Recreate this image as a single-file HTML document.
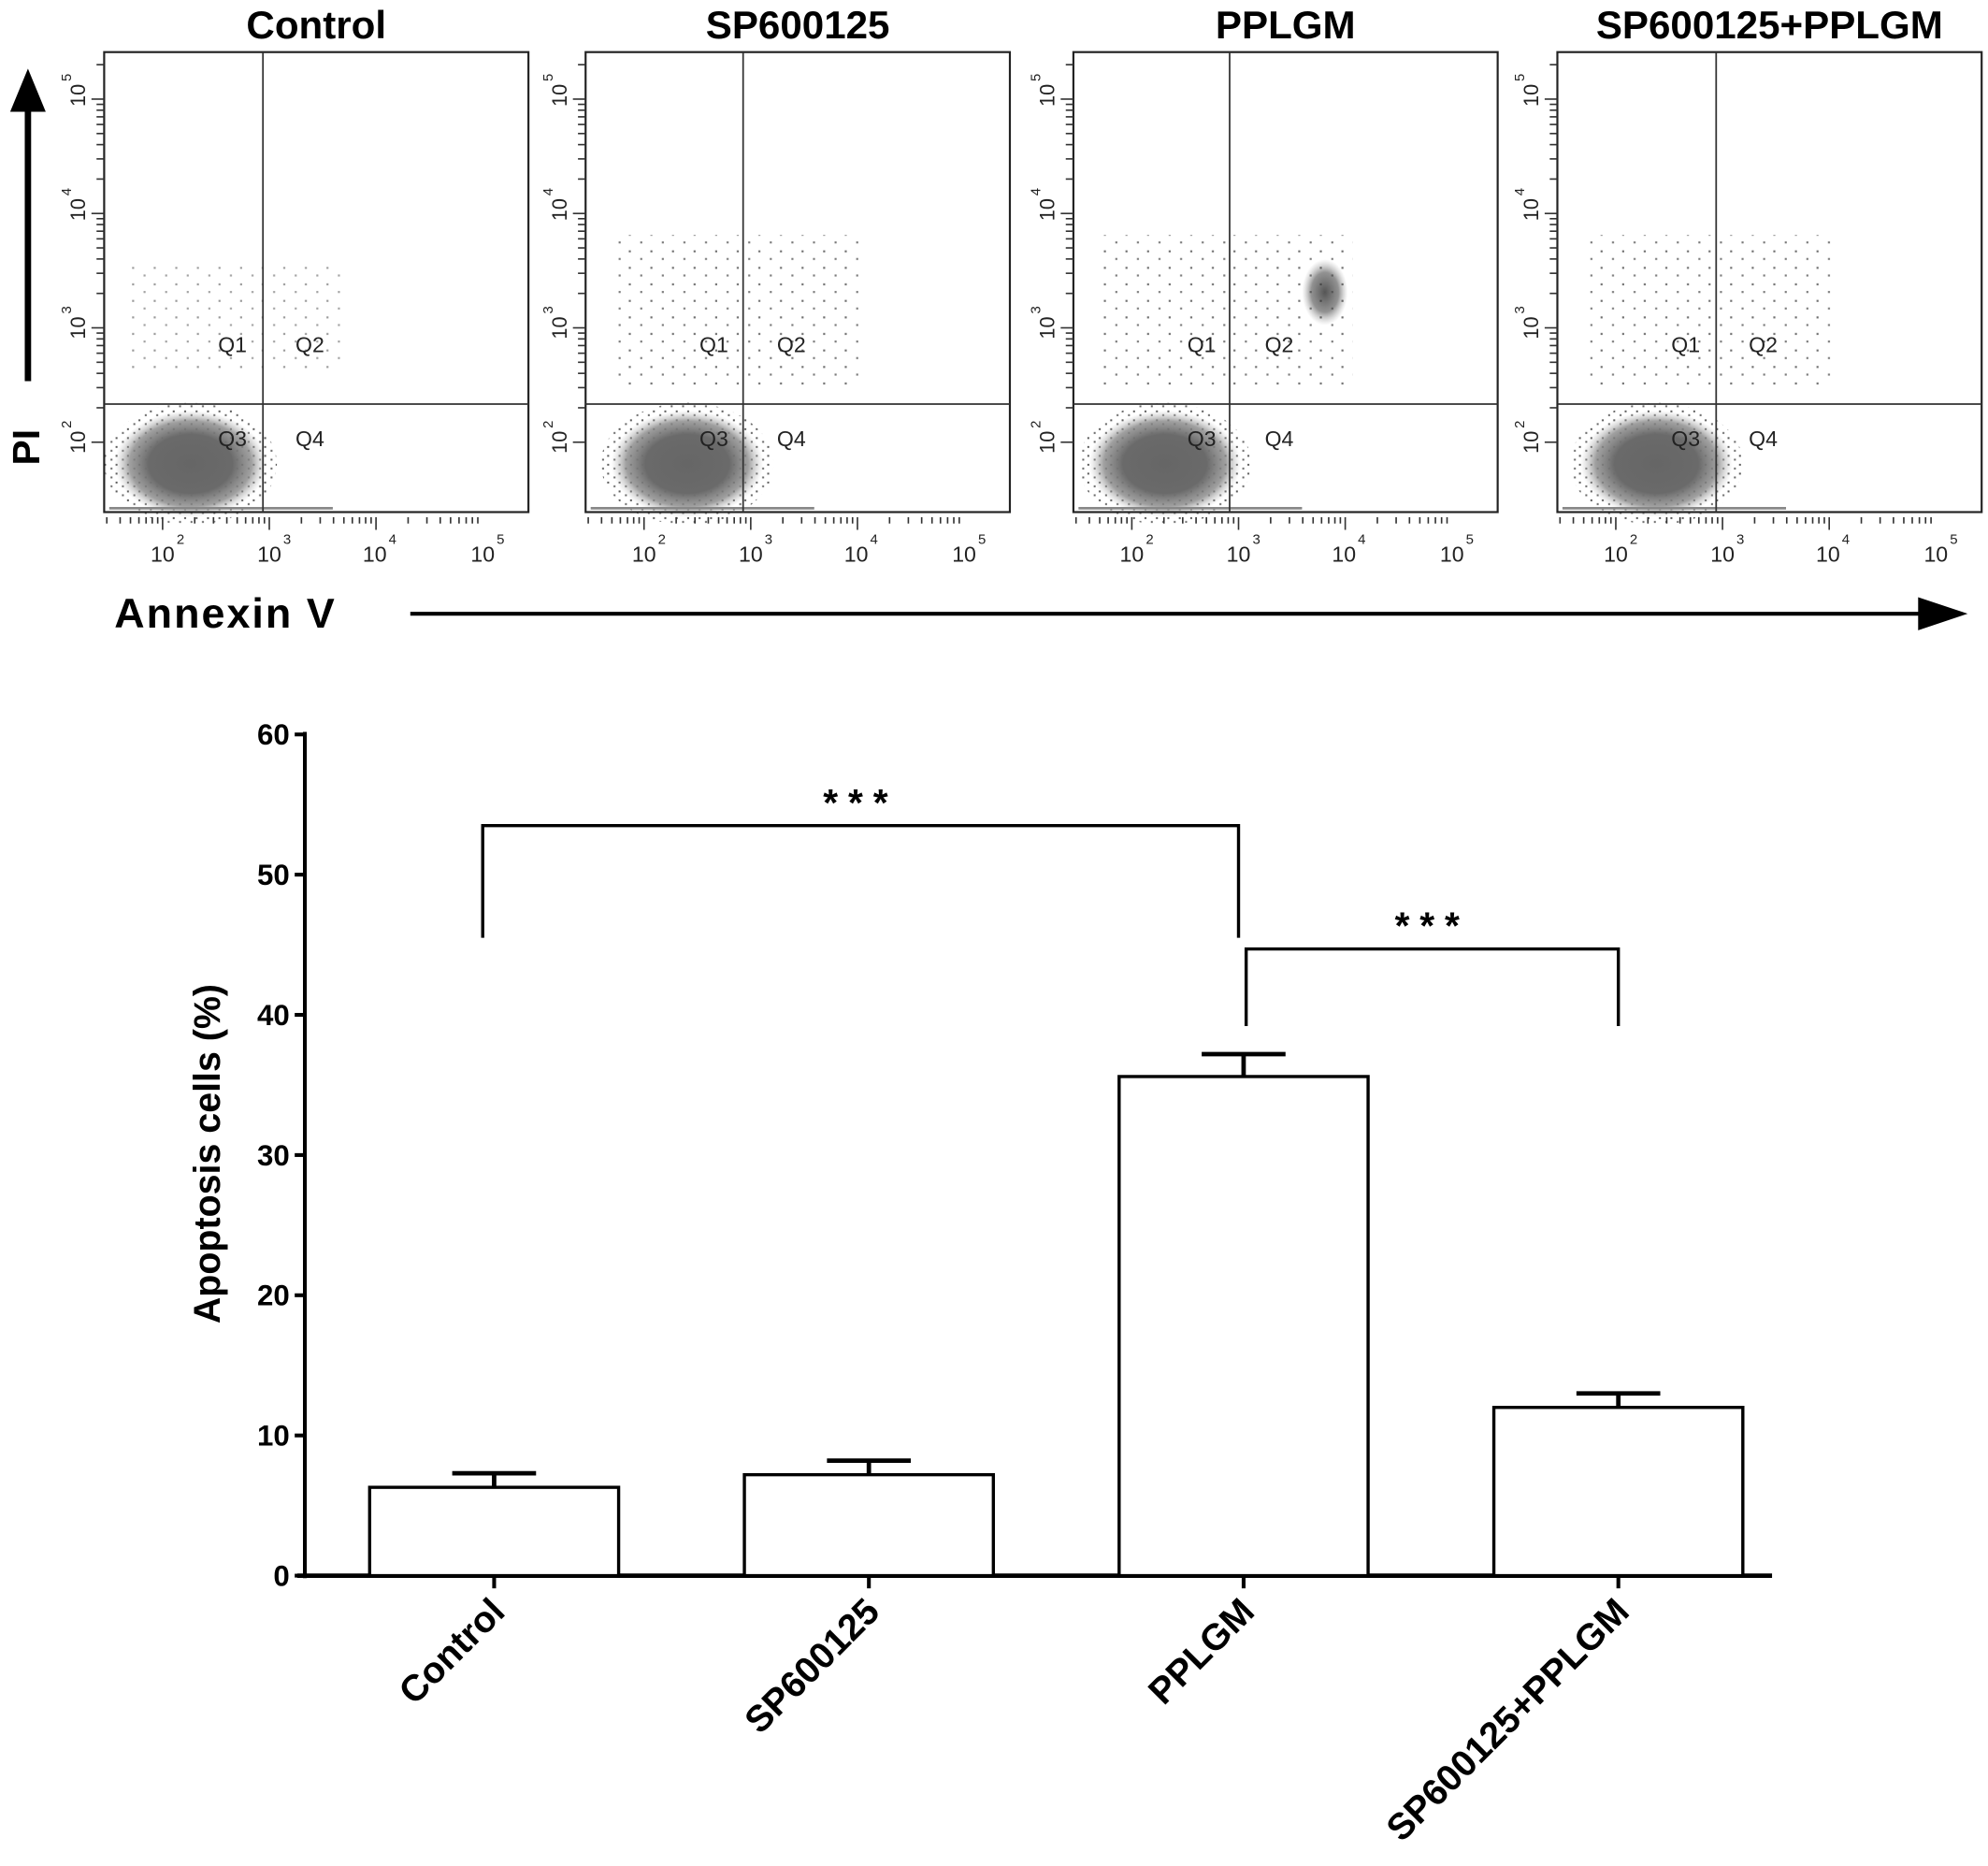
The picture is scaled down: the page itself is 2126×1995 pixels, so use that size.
<!DOCTYPE html>
<html><head><meta charset="utf-8"><style>
html,body{margin:0;padding:0;background:#fff}
svg{display:block}
text{font-family:"Liberation Sans",Arial,sans-serif}
</style></head><body>
<svg id="fig" width="2126" height="1995" viewBox="0 0 1565 1468.5" preserveAspectRatio="none" xmlns="http://www.w3.org/2000/svg">
<defs>
<radialGradient id="cl" cx="50%" cy="50%" r="50%">
<stop offset="0" stop-color="#666"/><stop offset="0.55" stop-color="#6a6a6a"/><stop offset="0.8" stop-color="#888" stop-opacity="0.8"/><stop offset="1" stop-color="#bbb" stop-opacity="0"/>
</radialGradient>
<radialGradient id="cl2" cx="50%" cy="50%" r="50%">
<stop offset="0" stop-color="#555"/><stop offset="0.6" stop-color="#777" stop-opacity="0.8"/><stop offset="1" stop-color="#aaa" stop-opacity="0"/>
</radialGradient>
<pattern id="spk" width="9" height="7" patternUnits="userSpaceOnUse">
<rect x="1" y="1" width="1.5" height="1.5" fill="#333"/><rect x="6" y="4" width="1.5" height="1.5" fill="#444"/>
</pattern>
<pattern id="spk2" width="17" height="13" patternUnits="userSpaceOnUse">
<rect x="2" y="2" width="1.6" height="1.6" fill="#333"/><rect x="11" y="8" width="1.6" height="1.6" fill="#444"/>
</pattern>
</defs>
<g id="flow"></g>
<g>
<line x1="22" y1="300" x2="22" y2="80" stroke="#000" stroke-width="5"/>
<polygon points="8,88 36,88 22,54" fill="#000"/>
<text transform="translate(31,352) rotate(-90)" font-size="30" font-weight="bold" text-anchor="middle">PI</text>
</g>
<g>
<text x="90" y="494" font-size="33" font-weight="bold" letter-spacing="1.5">Annexin V</text>
<line x1="323" y1="483" x2="1515" y2="483" stroke="#000" stroke-width="3"/>
<polygon points="1510,470 1510,496 1549,483" fill="#000"/>
</g>
<g id="bar"></g>
</svg>
<script>
const NS="http://www.w3.org/2000/svg";
function mk(p,t,a){const e=document.createElementNS(NS,t);for(const k in a)e.setAttribute(k,a[k]);p.appendChild(e);return e;}
// ---- flow panels ----
const panelTitles=["Control","SP600125","PPLGM","SP600125+PPLGM"];
const panelLefts=[82,461,845,1226];
const qx=[125,124,123,125];
const flow=document.getElementById('flow');
panelTitles.forEach((t,i)=>{
  const L=panelLefts[i],T=41,W=334,H=362;
  const g=mk(flow,'g',{});
  
  
  const tt=mk(g,'text',{x:L+W/2,y:30,'font-size':31,'font-weight':'bold','text-anchor':'middle'});tt.textContent=t;
  
  
  const cx=L+(i==2?72:i==1?80:i==3?78:68), cy=365;
  mk(g,'ellipse',{cx:cx,cy:cy,rx:68,ry:48,fill:'url(#spk)',opacity:0.8});
  mk(g,'ellipse',{cx:cx,cy:cy,rx:60,ry:42,fill:'url(#cl)'});
  if(i==2) mk(g,'ellipse',{cx:L+198,cy:230,rx:18,ry:26,fill:'url(#cl2)'});
  mk(g,'rect',{x:L+20,y:i==0?210:185,width:i==0?170:200,height:i==0?80:120,fill:'url(#spk2)',opacity:i==0?0.5:0.7});
  mk(g,'line',{x1:L+4,y1:T+H-3,x2:L+180,y2:T+H-3,stroke:'#888','stroke-width':2});
  mk(g,'rect',{x:L,y:T,width:W,height:H,fill:'none',stroke:'#222','stroke-width':1.6});
  mk(g,'line',{x1:L+qx[i],y1:T,x2:L+qx[i],y2:T+H,stroke:'#333','stroke-width':1.3});
  mk(g,'line',{x1:L,y1:318,x2:L+W,y2:318,stroke:'#333','stroke-width':1.3});
  [['Q1',101,277],['Q2',162,277],['Q3',101,351],['Q4',162,351]].forEach(q=>{const e=mk(g,'text',{x:L+q[1],y:q[2],'font-size':17,'text-anchor':'middle',fill:'#222'});e.textContent=q[0];});
  [46,130,213,298].forEach((o,k)=>{
    const e=mk(g,'text',{x:L+o,y:442,'font-size':17,'text-anchor':'middle',fill:'#222'});e.textContent='10';
    const s=mk(g,'text',{x:L+o+11,y:428,'font-size':11,fill:'#222'});s.textContent=String(k+2);
  });
  for(let d=0;d<4;d++)for(let m=1;m<10;m++){const xx=L+46-84+84*d+84*Math.log10(m);if(xx>L&&xx<L+W)mk(g,'line',{x1:xx,y1:T+H+4,x2:xx,y2:T+H+(m==1?14:9),stroke:'#333','stroke-width':1.2});}
  [[75,5],[165,4],[258,3],[348,2]].forEach(a=>{
    const e=mk(g,'text',{transform:`translate(${L-15},${a[0]}) rotate(-90)`,'font-size':16,'text-anchor':'middle',fill:'#222'});e.textContent='10';
    const s=mk(g,'text',{transform:`translate(${L-26},${a[0]-11}) rotate(-90)`,'font-size':11,fill:'#222'});s.textContent=String(a[1]);
  });
  for(let d=0;d<4;d++)for(let m=1;m<10;m++){const y2=348-90*d-90*Math.log10(m);if(y2>T&&y2<T+H)mk(g,'line',{x1:L-(m==1?10:6),y1:y2,x2:L,y2:y2,stroke:'#333','stroke-width':1.2});}
});
// ---- bar chart ----
const categories=["Control","SP600125","PPLGM","SP600125+PPLGM"];
const values=[6.3,7.2,35.6,12.0];
const errors=[1.0,1.0,1.6,1.0];
const yTicks=[0,10,20,30,40,50,60];
const bar=document.getElementById('bar');
const y=v=>1240-v*(662/60);
const x=i=>389+i*295;
const BW=196;
mk(bar,'line',{x1:240,y1:576,x2:240,y2:1242,stroke:'#000','stroke-width':3});
mk(bar,'line',{x1:234,y1:1240,x2:1395,y2:1240,stroke:'#000','stroke-width':3.5});
yTicks.forEach(t=>{
  mk(bar,'line',{x1:232,y1:y(t),x2:240,y2:y(t),stroke:'#000','stroke-width':3});
  const e=mk(bar,'text',{x:228,y:y(t)+8,'font-size':23,'font-weight':'bold','text-anchor':'end'});e.textContent=t;
  
  
});
const yt=mk(bar,'text',{transform:'translate(173,908) rotate(-90)','font-size':29,'font-weight':'bold','text-anchor':'middle'});yt.textContent='Apoptosis cells (%)';


categories.forEach((c,i)=>{
  const cx=x(i);
  const r=mk(bar,'rect',{x:cx-BW/2,y:y(values[i]),width:BW,height:y(0)-y(values[i]),fill:'#fff',stroke:'#000','stroke-width':2.5});
  
  
  const top=y(values[i]+errors[i]);
  const eb=mk(bar,'path',{d:`M${cx},${y(values[i])}V${top}M${cx-33},${top}H${cx+33}`,stroke:'#000','stroke-width':3.5,fill:'none'});
  
  
  mk(bar,'line',{x1:cx,y1:1240,x2:cx,y2:1250,stroke:'#000','stroke-width':3});
  const l=mk(bar,'text',{transform:`translate(${cx+10},${1270}) rotate(-45)`,'font-size':29,'font-weight':'bold','text-anchor':'end'});l.textContent=c;
  
  
});
const brackets=[[0,2,53.5,45.5,45.5],[2,3,44.7,39.2,39.2]];
brackets.forEach(b=>{
  const x1=x(b[0])-(b[0]==2?-2:9),x2=x(b[1])-(b[1]==2?4:0);
  const p=mk(bar,'path',{d:`M${x1},${y(b[3])}V${y(b[2])}H${x2}V${y(b[4])}`,stroke:'#000','stroke-width':2.5,fill:'none'});
  
  
  const s=mk(bar,'text',{x:(x1+x2)/2,y:y(b[2])-8,'font-size':30,'font-weight':'bold','text-anchor':'middle','letter-spacing':'8'});s.textContent='***';
  
  
});
</script>
</body></html>
